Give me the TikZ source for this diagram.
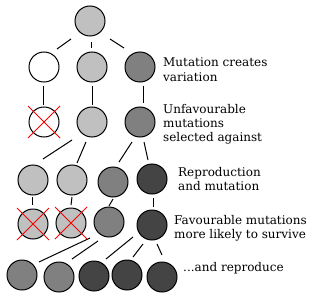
\documentclass[tikz,border=0pt]{standalone}
\usepackage{fontspec}
\setmainfont{DejaVu Serif}
\definecolor{lightg}{HTML}{C0C0C0}
\definecolor{midg}{HTML}{808080}
\definecolor{darkg}{HTML}{444444}
\tikzset{
  ball/.style={circle,draw=black,line width=1pt,minimum size=30pt,inner sep=0pt},
  conn/.style={draw=black,line width=1pt},
  cross/.style={draw=red,line width=0.9pt},
  lbl/.style={anchor=base west,inner sep=0pt,font=\fontsize{12}{14}\selectfont}
}
\begin{document}
\begin{tikzpicture}[x=1pt,y=-1pt]
\useasboundingbox (0,0) rectangle (320,299);
% row 0
\node[ball,fill=lightg] (r0) at (90,21) {};
% row 1
\node[ball,fill=white] (a1) at (44,67) {};
\node[ball,fill=lightg] (b1) at (92,67) {};
\node[ball,fill=midg] (c1) at (140,67) {};
% row 2
\node[ball,fill=white] (a2) at (44,122) {};
\node[ball,fill=lightg] (b2) at (92,122) {};
\node[ball,fill=midg] (c2) at (140,122) {};
% row 3
\node[ball,fill=lightg] (a3) at (33,180) {};
\node[ball,fill=lightg] (b3) at (72,180) {};
\node[ball,fill=midg] (c3) at (113,182) {};
\node[ball,fill=darkg] (d3) at (152,179) {};
% row 4
\node[ball,fill=lightg] (a4) at (33,224) {};
\node[ball,fill=lightg] (b4) at (71,223) {};
\node[ball,fill=midg] (c4) at (109,222) {};
\node[ball,fill=darkg] (d4) at (152,225) {};
% row 5
\node[ball,fill=midg] (a5) at (22,275) {};
\node[ball,fill=midg] (b5) at (59,277) {};
\node[ball,fill=darkg] (c5) at (94,276) {};
\node[ball,fill=darkg] (d5) at (127,275) {};
\node[ball,fill=darkg] (e5) at (162,277) {};
% connectors row 0 -> 1
\draw[conn] ([shift={(-19,18)}]r0.center) -- ([shift={(13,-18)}]a1.center);
\draw[conn] ([shift={(1,21)}]r0.center) -- ([shift={(-1,-19)}]b1.center);
\draw[conn] ([shift={(20,18)}]r0.center) -- ([shift={(-16,-19)}]c1.center);
% row 1 -> 2
\draw[conn] ([shift={(-1,19)}]a1.center) -- ([shift={(-1,-17)}]a2.center);
\draw[conn] ([shift={(0,19)}]b1.center) -- ([shift={(0,-17)}]b2.center);
\draw[conn] ([shift={(3,19)}]c1.center) -- ([shift={(3,-19)}]c2.center);
% row 2 -> 3
\draw[conn] ([shift={(-20,18)}]b2.center) -- ([shift={(10,-21)}]a3.center);
\draw[conn] ([shift={(-6,20)}]b2.center) -- ([shift={(5,-17)}]b3.center);
\draw[conn] ([shift={(-8,20)}]c2.center) -- ([shift={(6,-20)}]c3.center);
\draw[conn] ([shift={(4,20)}]c2.center) -- ([shift={(-4,-19)}]d3.center);
% row 3 -> 4
\draw[conn] ([shift={(-1,17)}]a3.center) -- ([shift={(-1,-19)}]a4.center);
\draw[conn] ([shift={(0,17)}]b3.center) -- ([shift={(0,-18)}]b4.center);
\draw[conn] ([shift={(0,17)}]c3.center) -- ([shift={(0,-16)}]c4.center);
\draw[conn] ([shift={(1,19)}]d3.center) -- ([shift={(1,-18)}]d4.center);
% row 4 -> 5
\draw[conn] ([shift={(-19,16)}]c4.center) -- ([shift={(17,-13)}]a5.center);
\draw[conn] ([shift={(-11,19)}]c4.center) -- ([shift={(13,-18)}]b5.center);
\draw[conn] ([shift={(-19,12)}]d4.center) -- ([shift={(12,-17)}]c5.center);
\draw[conn] ([shift={(-9,19)}]d4.center) -- ([shift={(6,-18)}]d5.center);
\draw[conn] ([shift={(5,19)}]d4.center) -- ([shift={(0,-22)}]e5.center);
% crosses
\foreach \n in {a2,a4,b4}{
  \draw[cross] ([shift={(-16,-16)}]\n.center) -- ([shift={(16,16)}]\n.center);
  \draw[cross] ([shift={(16,-16)}]\n.center) -- ([shift={(-16,16)}]\n.center);
}
% labels
\node[lbl] (t1) at (163,66.7) {Mutation creates};
\node[lbl] (t2) at (163,81.7) {variation};
\node[lbl] (t3) at (163,113.3) {Unfavourable};
\node[lbl] (t4) at (163,127.7) {mutations};
\node[lbl] (t5) at (163,141.7) {selected against};
\node[lbl] (t6) at (178,176.7) {Reproduction};
\node[lbl] (t7) at (178,190.5) {and mutation};
\node[lbl] (t8) at (174,224) {Favourable mutations};
\node[lbl] (t9) at (174,238) {more likely to survive};
\node[lbl] (t10) at (183,271.7) {...and reproduce};
\end{tikzpicture}
\end{document}
